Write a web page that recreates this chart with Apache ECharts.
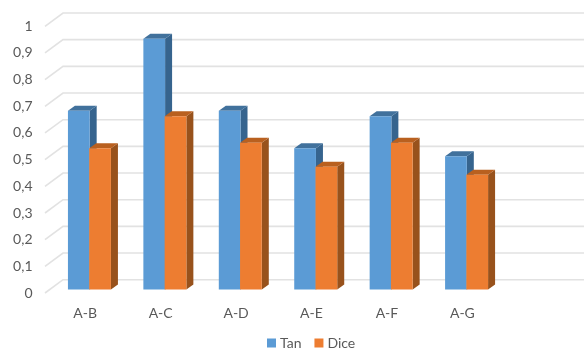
<!DOCTYPE html>
<html>
<head>
<meta charset="utf-8">
<style>html,body{margin:0;padding:0;background:#fff}#chart{width:584px;height:353px}</style>
<script src="https://cdn.jsdelivr.net/npm/echarts@6/dist/echarts.min.js"></script>
</head>
<body>
<div id="chart"></div>
<script>
// Category labels; the trailing blank band leaves the empty space on the right
const categories = ['A-B', 'A-C', 'A-D', 'A-E', 'A-F', 'A-G', ''];
const tan = [0.67, 0.94, 0.67, 0.53, 0.65, 0.5];
const dice = [0.53, 0.65, 0.55, 0.46, 0.55, 0.43];
const tickValues = [0, 0.1, 0.2, 0.3, 0.4, 0.5, 0.6, 0.7, 0.8, 0.9, 1];
const tickLabels = ['0', '0,1', '0,2', '0,3', '0,4', '0,5', '0,6', '0,7', '0,8', '0,9', '1'];

const palette = {
  Tan: { front: '#5B9BD5', top: '#41719C', side: '#36648E' },
  Dice: { front: '#ED7D31', top: '#B9601F', side: '#98521C' }
};

// Pseudo-3D extrusion of the columns and of the back wall
const depthX = 7, depthY = 5, planeLift = 3.5, wallX = 18, wallY = 13.3;

function poly(points, fill) {
  return { type: 'polygon', shape: { points }, style: { fill }, silent: true };
}

function columnRenderer(colors, startFrac) {
  return function (params, api) {
    const top = api.coord([api.value(0), api.value(1)]);
    const base = api.coord([api.value(0), 0]);
    const band = api.size([1, 0])[0];
    const w = band * 0.288;
    const x0 = top[0] + band * startFrac;
    const x1 = x0 + w;
    const yT = top[1] - planeLift;
    const yB = base[1] - planeLift;
    return {
      type: 'group',
      children: [
        poly([[x1, yT], [x1 + depthX, yT - depthY], [x1 + depthX, yB - depthY], [x1, yB]], colors.side),
        poly([[x0, yT], [x0 + depthX, yT - depthY], [x1 + depthX, yT - depthY], [x1, yT]], colors.top),
        poly([[x0, yT], [x1, yT], [x1, yB], [x0, yB]], colors.front)
      ]
    };
  };
}

// Each tick draws a short diagonal on the side wall and a long line on the back wall
function wallRenderer(params, api) {
  const y = api.coord([0, api.value(1)])[1];
  const left = params.coordSys.x - 2.5;
  const right = api.getWidth();
  return {
    type: 'polyline',
    shape: { points: [[left, y], [left + wallX, y - wallY], [right, y - wallY]] },
    style: { fill: 'none', stroke: '#E2E2E2', lineWidth: 1.6 },
    silent: true
  };
}

const chart = echarts.init(document.getElementById('chart'), null, { renderer: 'canvas' });
chart.setOption({
  animation: false,
  backgroundColor: '#ffffff',
  grid: { left: 47.5, top: 26.3, width: 528, height: 266.7 },
  legend: {
    data: ['Tan', 'Dice'],
    left: 262,
    top: 331,
    itemWidth: 9,
    itemHeight: 9,
    itemGap: 13,
    icon: 'rect',
    textStyle: { fontFamily: 'Lato', fontSize: 14, color: '#595959', padding: [0, 0, 0, -1] }
  },
  xAxis: {
    type: 'category',
    data: categories,
    axisLine: { show: false },
    axisTick: { show: false },
    splitLine: { show: false },
    axisLabel: { margin: 13, fontFamily: 'Lato', fontSize: 14, color: '#595959', interval: 0 }
  },
  yAxis: {
    type: 'value',
    min: 0,
    max: 1,
    interval: 0.1,
    axisLine: { show: false },
    axisTick: { show: false },
    splitLine: { show: false },
    axisLabel: {
      margin: 15,
      fontFamily: 'Lato',
      fontSize: 14,
      color: '#595959',
      formatter: v => tickLabels[Math.round(v * 10)]
    }
  },
  series: [
    {
      type: 'custom',
      name: 'wall',
      renderItem: wallRenderer,
      data: tickValues.map(v => [0, v]),
      encode: { x: 0, y: 1 },
      z: 1,
      silent: true
    },
    {
      type: 'custom',
      name: 'Tan',
      renderItem: columnRenderer(palette.Tan, -0.229),
      data: tan.map((v, i) => [i, v]),
      encode: { x: 0, y: 1 },
      itemStyle: { color: palette.Tan.front },
      z: 2
    },
    {
      type: 'custom',
      name: 'Dice',
      renderItem: columnRenderer(palette.Dice, 0.053),
      data: dice.map((v, i) => [i, v]),
      encode: { x: 0, y: 1 },
      itemStyle: { color: palette.Dice.front },
      z: 3
    }
  ]
});
</script>
</body>
</html>
